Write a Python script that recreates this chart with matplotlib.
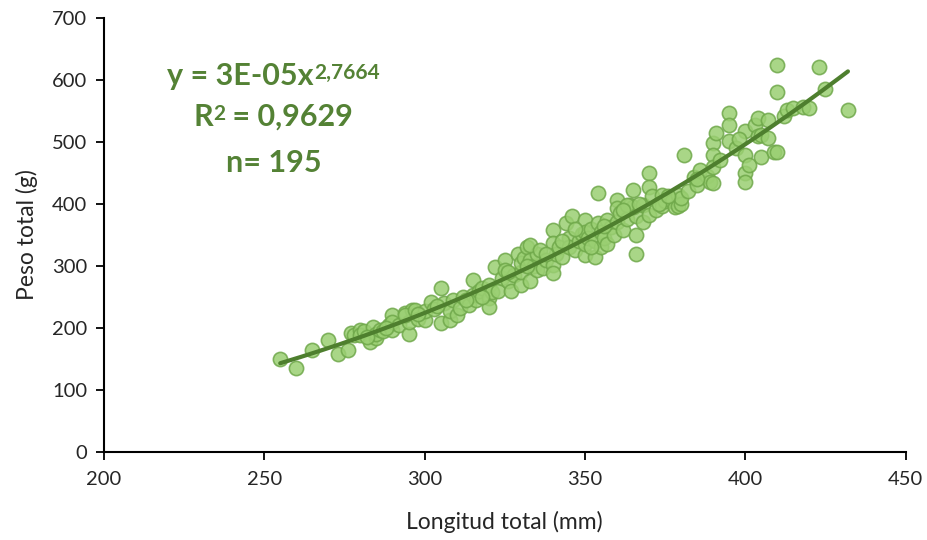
import numpy as np
import matplotlib
matplotlib.use("Agg")
import matplotlib.pyplot as plt

# --- data ---
longitud = [
    255, 260, 265, 270, 273, 276, 277, 278, 280, 280, 281, 283, 284, 285, 285, 286, 287, 289, 290, 290,
    290, 292, 294, 295, 295, 296, 294, 297, 298, 300, 300,
    302, 303, 305, 305, 306, 308, 308, 309, 310, 311, 312, 314, 315, 315, 316, 317, 318, 320, 320, 320,
    321, 322, 323, 324, 325, 325, 326, 327, 328, 329, 330, 330, 330, 331, 332, 333, 333, 334, 335, 335,
    333, 336, 337, 338, 340, 340, 340, 340, 341, 342, 343, 344, 345, 345, 346, 347, 348, 349, 350, 350,
    350, 350, 351, 352, 353, 354, 354, 353, 355, 355, 356, 357, 357, 358, 359, 360, 360, 360, 361, 362,
    363, 364, 365, 366, 366, 366, 365,
    363, 368, 368, 370, 370, 370, 371, 372, 374, 374, 375, 377, 378, 379, 379, 380, 380, 381, 382, 384,
    385, 386, 388, 389, 390, 390, 390, 390, 391, 392,
    395, 395, 395, 397, 400, 400, 400, 400, 401, 403, 404, 404, 405, 405, 407, 407, 409, 410, 410, 410,
    412, 413, 415, 418, 420, 423, 425, 432,
    282, 288, 298, 304, 313, 318, 326, 332, 338, 343, 347, 352, 356, 362, 367, 373, 376, 385, 398,
]
peso = [
    150, 135, 164, 181, 158, 165, 192, 188, 197, 189, 195, 178, 202, 183, 190, 197, 195, 205, 221, 197,
    210, 205, 224, 191, 210, 229, 221, 229, 215, 213, 228,
    242, 230, 264, 208, 240, 213, 228, 245, 221, 232, 250, 237, 277, 253, 245, 260, 265, 248, 234, 269,
    258, 299, 259, 280, 310, 294, 275, 259, 285, 320, 269, 290, 305, 312, 331, 310, 275, 300, 294, 320,
    334, 326, 296, 310, 358, 337, 302, 288, 320, 330, 315, 369, 345, 330, 380, 326, 340, 352, 374, 355,
    318, 335, 345, 360, 340, 417, 369, 315, 331, 355, 345, 374, 335, 362, 350, 406, 393, 370, 385, 358,
    375, 398, 423, 350, 320, 380, 395,
    398, 398, 371, 449, 428, 382, 412, 390, 415, 396, 405, 404, 395, 415, 396, 400, 410, 479, 420, 444,
    430, 455, 445, 436, 498, 479, 460, 433, 514, 470,
    546, 527, 501, 490, 517, 479, 449, 436, 463, 527, 538, 509, 476, 511, 535, 506, 484, 624, 581, 484,
    541, 552, 554, 557, 554, 620, 585, 552,
    185, 200, 222, 235, 245, 250, 290, 300, 320, 340, 360, 330, 365, 390, 400, 400, 412, 440, 505,
]

x_ticks = [200, 250, 300, 350, 400, 450]
y_ticks = [0, 100, 200, 300, 400, 500, 600, 700]
eq_text = "y = 3E-05x"
eq_exp = "2,7664"
r2_base = "R"
r2_exp = "2"
r2_rest = " = 0,9629"
n_text = "n= 195"
x_label = "Longitud total (mm)"
y_label = "Peso total (g)"

plt.rcParams['font.family'] = ['Lato', 'DejaVu Sans']

fig = plt.figure(figsize=(9.27, 5.4), dpi=100)
ax = fig.add_axes([0.112, 0.163, 0.865, 0.804])

x = np.array(longitud, dtype=float)
y = np.array(peso, dtype=float)

ax.scatter(x, y, s=105, facecolor='#9ACF72', edgecolor='#6FA84A', linewidth=1.2,
           alpha=0.85, zorder=2)

# power trendline (log-log least squares, as in Excel)
b, a = np.polyfit(np.log(x), np.log(y), 1)
xx = np.linspace(x.min(), x.max(), 200)
ax.plot(xx, np.exp(a) * xx ** b, color='#4E7F2E', linewidth=3, zorder=3,
        solid_capstyle='round')

ax.set_xlim(200, 450)
ax.set_ylim(0, 700)
ax.set_xticks(x_ticks)
ax.set_yticks(y_ticks)
for s in ['top', 'right']:
    ax.spines[s].set_visible(False)
for s in ['left', 'bottom']:
    ax.spines[s].set_linewidth(1.5)
    ax.spines[s].set_color('black')
ax.tick_params(axis='both', direction='out', length=6, width=1.3, labelsize=14.5,
               colors='black', labelcolor='#262626')
ax.tick_params(axis='x', pad=8)
ax.tick_params(axis='y', pad=6)

ax.set_xlabel(x_label, fontsize=16.5, color='#262626', labelpad=16)
ax.set_ylabel(y_label, fontsize=16.5, color='#262626', labelpad=10)

green = '#548235'
fs = 22
cx = 252.9
kw = dict(fontsize=fs, fontweight='bold', color=green, va='center')
sup = dict(fontsize=15, fontweight='bold', color=green, ha='left', va='top')

t = ax.text(cx, 606, eq_text, ha='left', **kw)
e = ax.annotate(eq_exp, xy=(1.0, 0.98), xycoords=t, **sup)

r = ax.text(cx, 540, r2_base, ha='left', **kw)
r_e = ax.annotate(r2_exp, xy=(1.0, 0.98), xycoords=r, **sup)
r_rest = ax.annotate(r2_rest, xy=(1.0, 0.5), xycoords=r_e, fontsize=fs,
                     fontweight='bold', color=green, ha='left', va='center')

ax.text(cx, 466, n_text, ha='center', **kw)

# centre composite lines on cx
fig.canvas.draw()
rend = fig.canvas.get_renderer()


def centre(first, last):
    b0 = first.get_window_extent(rend)
    b1 = last.get_window_extent(rend)
    w = b1.x1 - b0.x0
    x0_disp = ax.transData.transform((cx, 0))[0] - w / 2
    first.set_x(ax.transData.inverted().transform((x0_disp, 0))[0])


centre(t, e)
centre(r, r_rest)
# the R-line rest was placed relative to the exponent's centre; re-anchor vertically
r_rest.xy = (1.0, 0.5)
r_rest.xycoords = r
r_rest.set_ha('left')
r_rest.xyann = (0, 0)
r_rest.set_anncoords('offset points')
r_rest.xy = (1.0, 0.5)
# shift horizontally past the exponent
fig.canvas.draw()
w_exp = r_e.get_window_extent(rend).width
r_rest.xyann = (w_exp * 72 / fig.dpi, 0)

fig.savefig('out.png', dpi=100)
